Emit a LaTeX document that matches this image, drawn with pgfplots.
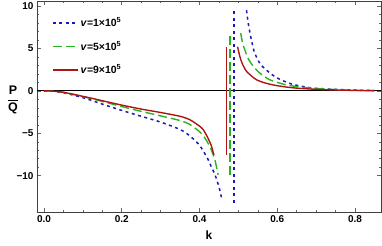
\documentclass[border=0pt]{standalone}
\usepackage{fontspec}
\setmainfont{Liberation Sans}
\usepackage{pgfplots}
\pgfplotsset{compat=1.18}
\definecolor{cblue}{RGB}{25,25,190}
\definecolor{cgreen}{RGB}{40,180,30}
\definecolor{cred}{RGB}{175,20,20}
\begin{document}
\begin{tikzpicture}
\begin{axis}[
  scale only axis, width=344bp, height=211bp,
  xmin=-0.018, xmax=0.867, ymin=-14.28, ymax=10.59,
  xtick={0,0.2,0.4,0.6,0.8}, xticklabels={0.0,0.2,0.4,0.6,0.8},
  ytick={-10,-5,0,5,10}, yticklabels={−10,−5,0,5,10},
  minor x tick num=3, minor y tick num=4,
  tick align=inside,
  major tick length=4bp, minor tick length=2.2bp,
  every tick/.style={black!60, line width=0.5pt},
  axis line style={black!75, line width=0.8pt},
  tick label style={font=\bfseries\fontsize{10}{11}\selectfont},
  /pgf/number format/assume math mode=true,
  xlabel={\textbf{k}},
  xlabel style={at={(axis description cs:0.5,-0.109)}, anchor=center, font=\fontsize{12}{13}\selectfont},
  ylabel={$\displaystyle\frac{\textbf{P}}{\textbf{Q}}$},
  ylabel style={rotate=-90, at={(axis description cs:-0.07,0.531)}, anchor=center, font=\fontsize{12.5}{14}\selectfont},
  legend style={at={(axis description cs:0.035,0.94)}, anchor=north west, draw=none, fill=none,
     row sep=9bp, font=\bfseries\fontsize{10.5}{12}\selectfont},
  legend cell align=left,
  legend image code/.code={\draw[#1] (0bp,0bp) -- (25bp,0bp);},
]
\addplot[black, line width=0.9pt, forget plot] coordinates {(-0.018,0) (0.867,0)};
% blue v=1e5
\addplot[cblue, line width=1.5pt, dash pattern=on 3bp off 3.5bp, smooth, tension=0.4] coordinates {
(0,0) (0.025,-0.05) (0.05,-0.22) (0.075,-0.5) (0.1,-0.8) (0.13,-1.25) (0.16,-1.72) (0.2,-2.3) (0.25,-3.0) (0.3,-3.68) (0.35,-4.55) (0.375,-5.3) (0.4,-6.4) (0.42,-7.9) (0.43,-8.9) (0.44,-9.9) (0.45,-11.3) (0.457,-12.67)};
\addlegendentry{\textit{v}=1×10\textsuperscript{5}}
\addplot[cblue, line width=1.5pt, dash pattern=on 3bp off 3.5bp, forget plot] coordinates {(0.489,-13.2) (0.489,9.4)};
\addplot[cblue, line width=1.5pt, dash pattern=on 3bp off 3.5bp, smooth, tension=0.4, forget plot] coordinates {
(0.521,9.5) (0.525,8.1) (0.530,6.8) (0.536,5.5) (0.542,4.45) (0.555,3.25) (0.566,2.7) (0.577,2.26) (0.59,1.8) (0.607,1.35) (0.625,1.0) (0.641,0.75) (0.67,0.48) (0.693,0.32) (0.744,0.18) (0.8,0.08) (0.85,0.03)};
% green v=5e5
\addplot[cgreen, line width=1.4pt, dash pattern=on 9bp off 4bp, smooth, tension=0.4] coordinates {
(0,0) (0.025,-0.04) (0.05,-0.18) (0.075,-0.42) (0.1,-0.68) (0.13,-1.0) (0.16,-1.37) (0.2,-1.85) (0.25,-2.42) (0.3,-2.95) (0.35,-3.5) (0.375,-3.95) (0.4,-4.8) (0.41,-5.3) (0.42,-6.0) (0.43,-6.9) (0.44,-8.2) (0.448,-9.9)};
\addlegendentry{\textit{v}=5×10\textsuperscript{5}}
\addplot[cgreen, line width=1.4pt, dash pattern=on 9bp off 4bp, forget plot] coordinates {(0.479,-9.9) (0.479,6.6)};
\addplot[cgreen, line width=1.4pt, dash pattern=on 9bp off 4bp, smooth, tension=0.4, forget plot] coordinates {
(0.506,6.8) (0.511,5.6) (0.517,4.8) (0.523,4.0) (0.530,3.44) (0.54,2.8) (0.551,2.26) (0.565,1.75) (0.581,1.3) (0.6,1.0) (0.624,0.69) (0.66,0.45) (0.693,0.3) (0.75,0.15) (0.8,0.07) (0.85,0.03)};
% red v=9e5
\addplot[cred, line width=1.4pt, smooth, tension=0.4] coordinates {
(0,0) (0.025,-0.04) (0.05,-0.17) (0.075,-0.4) (0.1,-0.65) (0.13,-0.95) (0.16,-1.27) (0.2,-1.68) (0.25,-2.15) (0.3,-2.55) (0.35,-3.0) (0.375,-3.4) (0.4,-4.15) (0.41,-4.6) (0.42,-5.4) (0.43,-6.4) (0.437,-7.56)};
\addlegendentry{\textit{v}=9×10\textsuperscript{5}}
\addplot[cred, line width=1.4pt, forget plot] coordinates {(0.470,-7.56) (0.470,5.2)};
\addplot[cred, line width=1.4pt, smooth, tension=0.4, forget plot] coordinates {
(0.498,5.2) (0.503,4.2) (0.508,3.44) (0.515,2.75) (0.521,2.3) (0.535,1.7) (0.547,1.3) (0.565,0.98) (0.59,0.69) (0.62,0.47) (0.65,0.32) (0.7,0.18) (0.75,0.1) (0.8,0.05) (0.85,0.02)};
\end{axis}
\pgfresetboundingbox
\path[use as bounding box] (current axis.south west) ++(-37bp,-33bp) rectangle ([shift={(1bp,1bp)}]current axis.north east);
\end{tikzpicture}
\end{document}
